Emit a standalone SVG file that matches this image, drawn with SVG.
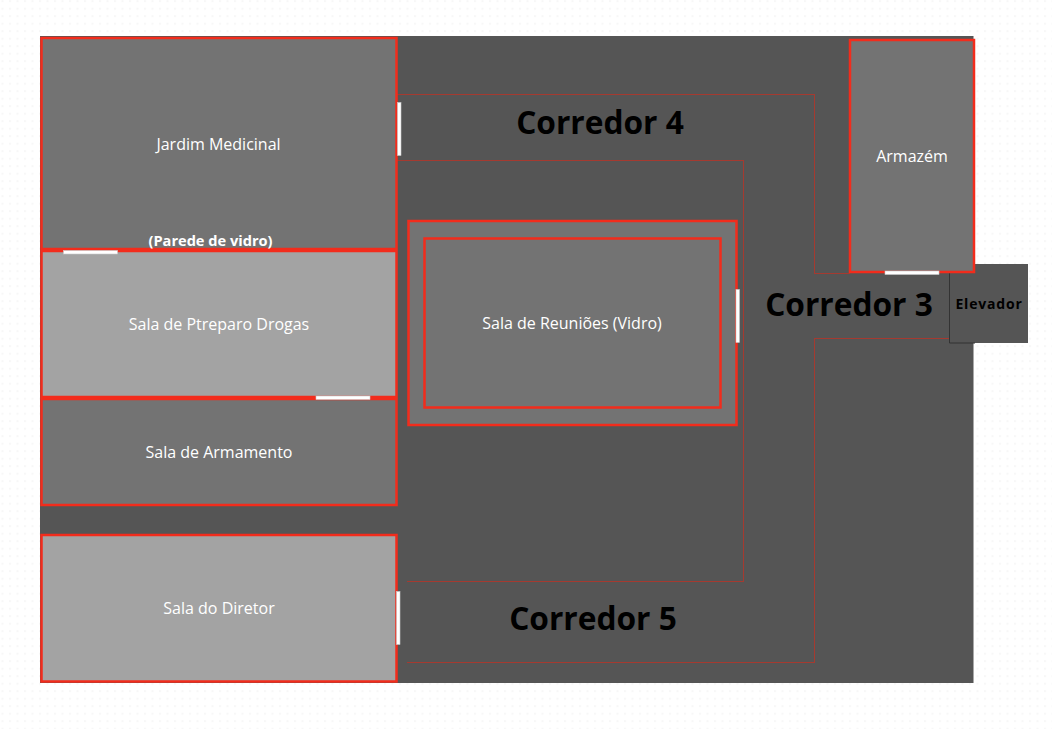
<svg xmlns="http://www.w3.org/2000/svg" width="1052" height="729" viewBox="0 0 1052 729">
  <style>
    .room{stroke:#f22c1c;stroke-width:2.500}
    .dark{fill:#737373}
    .light{fill:#a3a3a3}
    .door{fill:#fff;stroke:#c8c8c8;stroke-width:.6}
    .wall{fill:none;stroke:#a53a30;stroke-width:1;shape-rendering:crispEdges}
    text{font-family:"Open Sans","Noto Sans","DejaVu Sans",sans-serif}
    .lbl{fill:#fff;font-size:16px;text-anchor:middle}
    .cor{fill:#000;font-size:31.700px;font-weight:700;text-anchor:middle}
  </style>
  <defs>
    <pattern id="dots" width="7.5" height="7.5" patternUnits="userSpaceOnUse" x="1.5" y="0.2">
      <rect x="0" y="0" width="2" height="2" fill="#f7f7f7"/>
    </pattern>
  </defs>
  <rect width="1052" height="729" fill="#fff"/>
  <rect width="1052" height="729" fill="url(#dots)"/>
  <rect id="floor" x="40" y="36" width="933.500" height="647" fill="#555"/>

  <g id="connectors">
    <path class="wall" d="M397 94.500H814.500V273.500H850"/>
    <path class="wall" d="M397 160.500H743.500V581.500H407"/>
    <path class="wall" d="M407 662.500H814.500V338.500H975"/>
  </g>

  <g id="elevador">
    <rect x="950" y="264" width="78" height="79" fill="#555"/>
    <path d="M949.500 264V343H975" fill="none" stroke="#333" stroke-width="1"/>
    <text x="989" y="309" font-size="14" font-weight="700" letter-spacing=".8" text-anchor="middle" fill="#000">Elevador</text>
  </g>
  <g id="armazem">
    <rect class="room dark" x="850" y="40" width="124" height="232"/>
    <text class="lbl" x="912" y="162">Armazém</text>
  </g>
  <g id="jardim">
    <rect class="room dark" x="41.500" y="38" width="355" height="211"/>
    <text class="lbl" x="218.500" y="150">Jardim Medicinal</text>
    <text x="210.500" y="245.500" font-size="14.600" font-weight="700" text-anchor="middle" fill="#fff">(Parede de vidro)</text>
  </g>
  <g id="preparo">
    <rect class="room light" x="41.500" y="251" width="355" height="146"/>
    <text class="lbl" x="219" y="330">Sala de Ptreparo Drogas</text>
  </g>
  <g id="armamento">
    <rect class="room dark" x="41.500" y="399" width="355" height="106"/>
    <text class="lbl" x="219" y="458">Sala de Armamento</text>
  </g>
  <g id="diretor">
    <rect class="room light" x="41.500" y="535" width="355" height="146.500"/>
    <text class="lbl" x="219" y="614">Sala do Diretor</text>
  </g>
  <g id="reunioes">
    <rect class="room dark" x="408.500" y="221" width="328" height="204"/>
    <rect class="room dark" x="424.500" y="238.500" width="296" height="169"/>
    <text class="lbl" x="572" y="329">Sala de Reuniões (Vidro)</text>
  </g>
  <g id="doors">
    <rect class="door" x="397.500" y="102.500" width="3.500" height="53"/>
    <rect class="door" x="63.500" y="250.500" width="54" height="3.500"/>
    <rect class="door" x="316" y="396" width="54" height="3.500"/>
    <rect class="door" x="396.500" y="591.500" width="3.500" height="53"/>
    <rect class="door" x="736" y="289.500" width="3.500" height="53"/>
    <rect class="door" x="885" y="271" width="54" height="3.500"/>
  </g>
  <g id="corredores">
    <text class="cor" x="600" y="134">Corredor 4</text>
    <text class="cor" x="849" y="316">Corredor 3</text>
    <text class="cor" x="593" y="630">Corredor 5</text>
  </g>
</svg>
